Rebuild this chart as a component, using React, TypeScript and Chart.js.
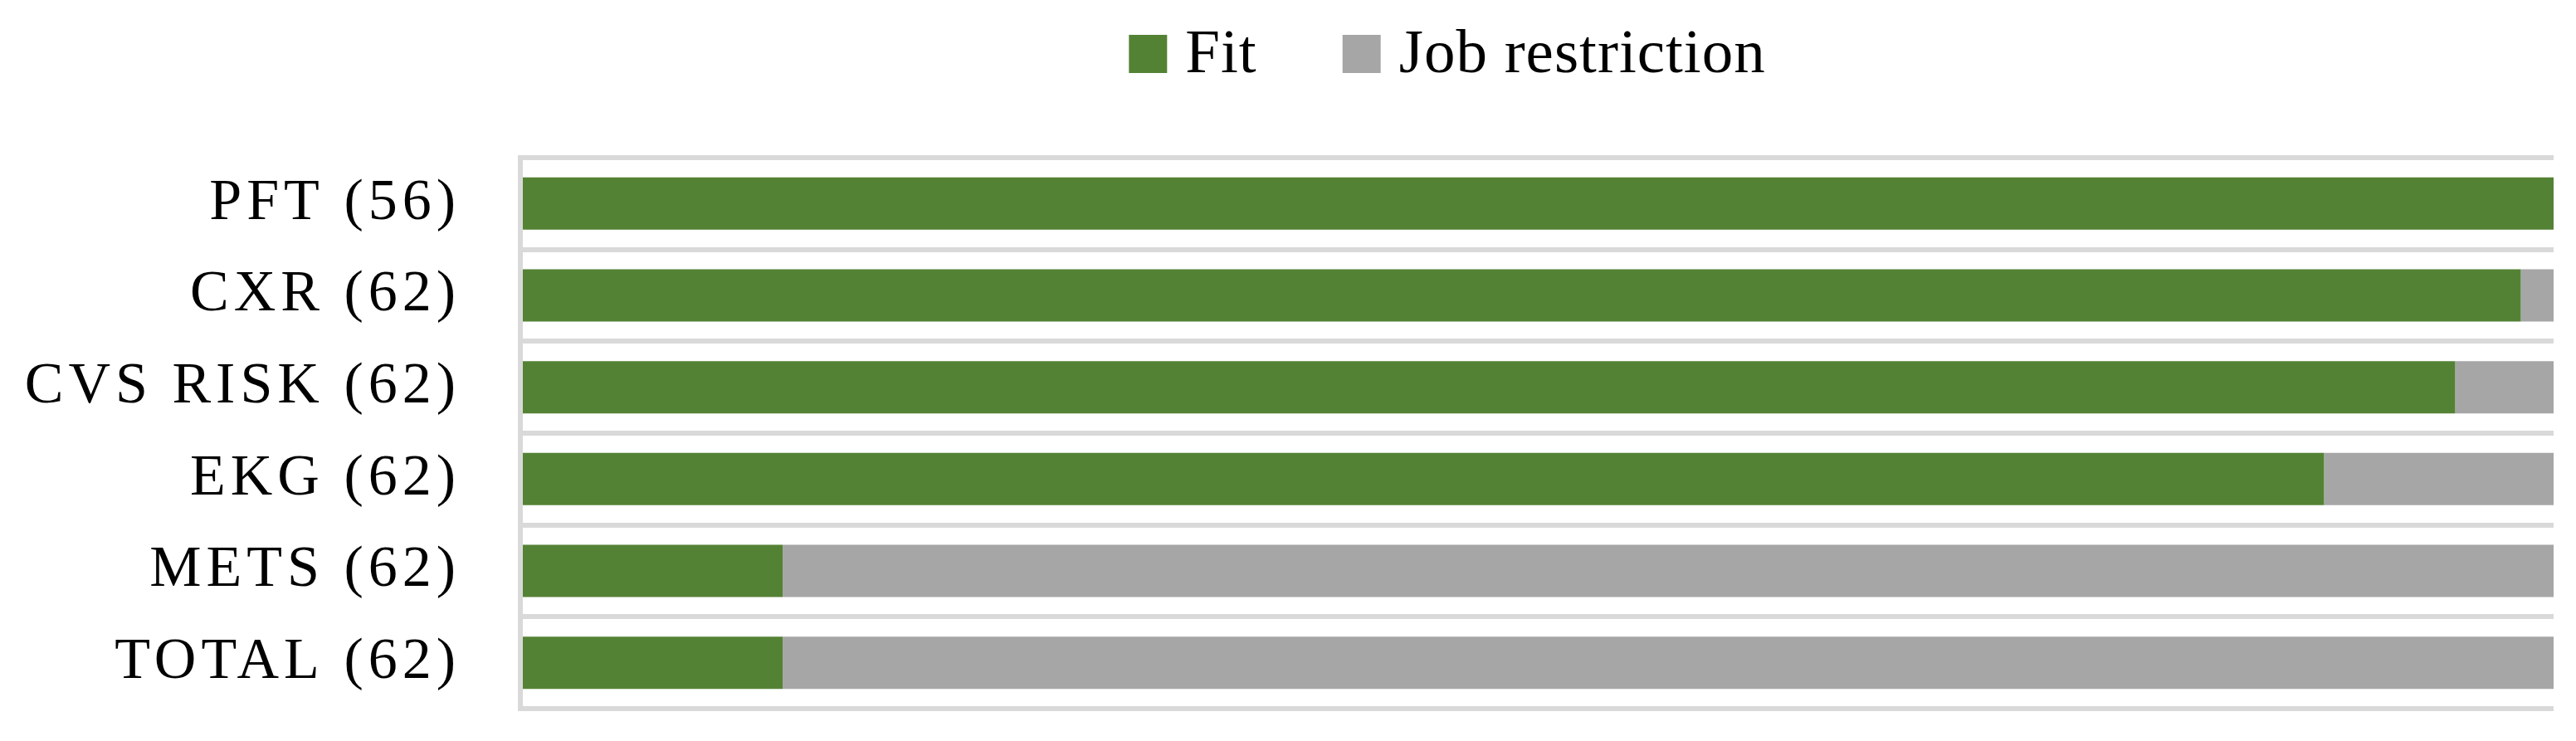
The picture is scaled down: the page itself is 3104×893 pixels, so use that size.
import React, { useEffect, useRef } from "react";
import { Chart, registerables } from "chart.js";

Chart.register(...registerables);

// ---- data ----
const categories = ["PFT (56)", "CXR (62)", "CVS RISK (62)", "EKG (62)", "METS (62)", "TOTAL (62)"];
const fitCounts = [56, 61, 59, 55, 8, 8];
const restrictionCounts = [0, 1, 3, 7, 54, 54];
const seriesNames = ["Fit", "Job restriction"];
const seriesColors = ["#548235", "#A6A6A6"];

const FONT = "'Liberation Serif', 'Times New Roman', serif";

function toPercent(part: number[], other: number[]): number[] {
  return part.map((v, i) => (v / (part[i] + other[i])) * 100);
}

const spacingPlugin = {
  id: "labelSpacing",
  beforeDraw(chart: any) {
    (chart.ctx as any).letterSpacing = "6px";
  },
  afterDraw(chart: any) {
    (chart.ctx as any).letterSpacing = "0px";
  },
};

const legendPlugin = {
  id: "topLegend",
  afterDraw(chart: any) {
    const ctx = chart.ctx as CanvasRenderingContext2D;
    ctx.save();
    (ctx as any).letterSpacing = "1px";
    ctx.font = `75px ${FONT}`;
    ctx.textAlign = "left";
    ctx.textBaseline = "alphabetic";
    const box = 46;
    const gapText = 22;
    const gapItem = 103;
    const centerX = 1736;
    const boxTop = 34;
    const baseline = 79;
    const items = chart.data.datasets.map((d: any) => ({
      label: d.label as string,
      color: d.backgroundColor as string,
      w: ctx.measureText(d.label).width,
    }));
    const total =
      items.reduce((s: number, it: any) => s + box + gapText + it.w, 0) + gapItem * (items.length - 1);
    let x = centerX - total / 2;
    for (const it of items) {
      ctx.fillStyle = it.color;
      ctx.fillRect(x, boxTop, box, box);
      ctx.fillStyle = "#000000";
      ctx.fillText(it.label, x + box + gapText, baseline);
      x += box + gapText + it.w + gapItem;
    }
    ctx.restore();
  },
};

export default function App() {
  const canvasRef = useRef<HTMLCanvasElement | null>(null);

  useEffect(() => {
    if (!canvasRef.current) return;
    const chart = new Chart(canvasRef.current, {
      type: "bar",
      data: {
        labels: categories,
        datasets: [
          {
            label: seriesNames[0],
            data: toPercent(fitCounts, restrictionCounts),
            backgroundColor: seriesColors[0],
            borderWidth: 0,
            categoryPercentage: 1,
            barPercentage: 0.57,
          },
          {
            label: seriesNames[1],
            data: toPercent(restrictionCounts, fitCounts),
            backgroundColor: seriesColors[1],
            borderWidth: 0,
            categoryPercentage: 1,
            barPercentage: 0.57,
          },
        ],
      },
      options: {
        indexAxis: "y",
        animation: false,
        responsive: true,
        maintainAspectRatio: false,
        layout: { padding: { top: 182, right: 19, bottom: 31, left: 0 } },
        plugins: {
          legend: { display: false },
          tooltip: { enabled: false },
          title: { display: false },
        },
        scales: {
          x: {
            stacked: true,
            display: false,
            min: 0,
            max: 100,
          },
          y: {
            stacked: true,
            offset: true,
            grid: {
              color: "#D9D9D9",
              lineWidth: 6,
              drawTicks: false,
              offset: true,
            },
            border: { display: true, color: "#D9D9D9", width: 6, z: 1 },
            ticks: {
              color: "#000000",
              font: { family: FONT, size: 70 },
              padding: 72,
              autoSkip: false,
            },
            afterFit(scale: any) {
              scale.width = 619;
              scale.paddingTop = 0;
              scale.paddingBottom = 0;
            },
          },
        },
      },
      plugins: [spacingPlugin, legendPlugin],
    } as any);
    return () => chart.destroy();
  }, []);

  return (
    <div style={{ width: "3088px", height: "877px", position: "relative" }}>
      <canvas ref={canvasRef} />
    </div>
  );
}
